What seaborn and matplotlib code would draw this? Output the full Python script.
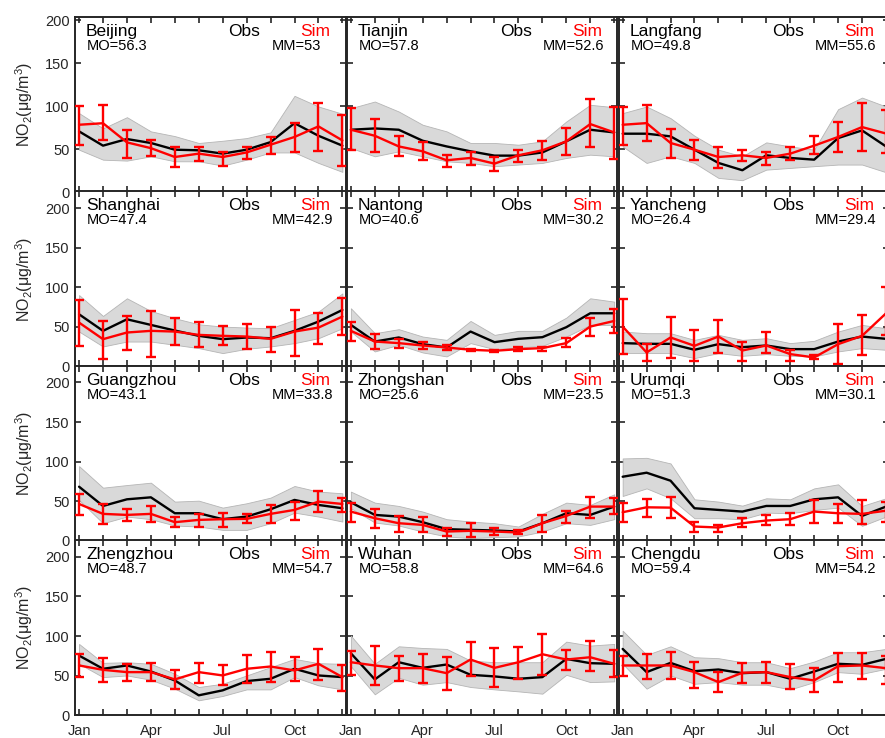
import matplotlib
matplotlib.use("Agg")
import matplotlib.pyplot as plt
import numpy as np
import pandas as pd
import seaborn as sns

# ---------------- data ----------------
months = list(range(1, 13))
month_tick_labels = ["Jan", "", "", "Apr", "", "", "Jul", "", "", "Oct", "", ""]
y_ticks = [0, 50, 100, 150, 200]

cities = ["Beijing", "Tianjin", "Langfang",
          "Shanghai", "Nantong", "Yancheng",
          "Guangzhou", "Zhongshan", "Urumqi",
          "Zhengzhou", "Wuhan", "Chengdu"]
mo_values = [56.3, 57.8, 49.8, 47.4, 40.6, 26.4, 43.1, 25.6, 51.3, 48.7, 58.8, 59.4]
mm_values = [53, 52.6, 55.6, 42.9, 30.2, 29.4, 33.8, 23.5, 30.1, 54.7, 64.6, 54.2]

obs_mean = {
    "Beijing":   [70.5, 53.9, 61.6, 57.0, 49.2, 48.5, 44.6, 49.2, 58.0, 80.0, 65.4, 53.9],
    "Tianjin":   [72.4, 73.9, 72.4, 59.6, 53.0, 47.3, 42.3, 42.3, 46.0, 58.9, 72.4, 69.3],
    "Langfang":  [67.8, 67.8, 64.7, 49.2, 33.8, 25.3, 42.7, 39.6, 37.6, 62.7, 71.6, 53.0],
    "Shanghai":  [65.8, 44.9, 59.5, 52.4, 45.3, 38.6, 34.4, 36.5, 35.6, 44.9, 56.6, 71.3],
    "Nantong":   [52.4, 31.4, 36.5, 28.1, 23.9, 44.0, 30.6, 34.8, 36.9, 49.5, 67.1, 67.1],
    "Yancheng":  [29.4, 28.5, 28.5, 21.0, 28.1, 24.3, 26.4, 21.8, 21.8, 31.4, 37.7, 34.8],
    "Guangzhou": [68.3, 44.0, 52.4, 54.9, 34.8, 34.8, 27.3, 30.6, 39.8, 51.6, 45.3, 41.1],
    "Zhongshan": [48.6, 32.7, 30.6, 23.5, 14.7, 13.8, 13.0, 11.7, 22.2, 34.8, 32.7, 43.2],
    "Urumqi":    [80.9, 86.0, 75.9, 41.1, 39.0, 36.9, 44.0, 44.0, 52.4, 54.9, 31.4, 43.2],
    "Zhengzhou": [75.3, 58.6, 62.8, 55.2, 43.9, 25.1, 31.4, 43.1, 46.0, 58.6, 50.2, 48.1],
    "Wuhan":     [78.2, 45.2, 66.9, 59.8, 64.0, 51.0, 49.0, 46.0, 48.1, 71.1, 65.7, 64.9],
    "Chengdu":   [83.7, 54.4, 66.1, 55.6, 57.7, 53.1, 54.4, 46.0, 55.2, 64.9, 63.6, 71.1],
}
obs_low = {
    "Beijing":   [49.2, 37.6, 36.5, 41.5, 35.7, 35.7, 30.7, 37.6, 46.0, 46.0, 33.8, 23.4],
    "Tianjin":   [51.2, 41.5, 47.3, 41.5, 35.7, 33.8, 30.0, 31.9, 33.8, 39.6, 43.4, 41.5],
    "Langfang":  [53.0, 33.8, 41.5, 33.8, 16.4, 13.7, 26.0, 28.0, 30.0, 31.9, 31.9, 23.0],
    "Shanghai":  [44.0, 25.2, 31.4, 31.4, 27.3, 23.1, 16.8, 22.2, 25.2, 29.4, 35.6, 48.2],
    "Nantong":   [44.0, 18.9, 27.3, 17.6, 12.6, 29.4, 21.8, 23.9, 26.0, 37.7, 52.4, 52.4],
    "Yancheng":  [16.8, 16.8, 16.8, 10.5, 16.8, 13.4, 15.5, 13.4, 12.6, 18.9, 23.1, 21.0],
    "Guangzhou": [51.6, 22.2, 30.6, 27.3, 19.3, 18.0, 13.8, 13.8, 22.2, 35.6, 30.6, 24.3],
    "Zhongshan": [41.1, 23.1, 19.3, 11.7, 5.5, 3.4, 4.6, 5.5, 11.7, 22.2, 20.1, 27.3],
    "Urumqi":    [56.6, 66.2, 53.7, 28.5, 28.5, 27.3, 35.6, 34.8, 39.0, 41.9, 18.9, 30.6],
    "Zhengzhou": [64.9, 48.1, 50.2, 44.8, 33.5, 18.8, 24.3, 32.6, 32.6, 48.1, 37.7, 32.6],
    "Wuhan":     [61.9, 26.4, 47.3, 38.5, 41.8, 35.6, 32.6, 30.1, 27.2, 51.0, 41.8, 42.7],
    "Chengdu":   [64.9, 33.5, 50.2, 39.7, 41.8, 38.5, 38.5, 32.6, 41.8, 54.4, 52.3, 58.6],
}
obs_high = {
    "Beijing":   [91.7, 74.0, 87.0, 70.5, 65.0, 57.0, 59.6, 62.7, 69.3, 111.8, 99.4, 91.0],
    "Tianjin":   [97.5, 105.2, 93.6, 78.2, 70.5, 57.0, 57.0, 55.0, 58.9, 82.0, 101.4, 98.6],
    "Langfang":  [91.7, 99.4, 85.9, 65.4, 49.2, 41.5, 57.7, 53.0, 49.2, 96.3, 109.8, 99.4],
    "Shanghai":  [90.1, 63.7, 86.0, 70.0, 60.8, 53.2, 50.3, 49.0, 48.2, 58.7, 69.2, 92.2],
    "Nantong":   [73.4, 41.9, 47.0, 37.7, 33.5, 57.4, 39.8, 44.9, 44.9, 61.6, 86.0, 81.8],
    "Yancheng":  [44.0, 41.9, 41.9, 33.5, 39.8, 33.5, 35.6, 29.4, 32.3, 44.0, 52.4, 48.2],
    "Guangzhou": [94.3, 67.1, 70.4, 73.4, 49.5, 50.7, 41.9, 47.4, 54.5, 69.2, 62.1, 60.0],
    "Zhongshan": [62.1, 48.2, 44.0, 36.9, 27.3, 24.3, 22.2, 18.0, 34.0, 48.2, 45.3, 58.7],
    "Urumqi":    [104.0, 104.8, 97.7, 52.4, 49.5, 44.4, 53.7, 52.4, 66.2, 71.3, 44.0, 53.7],
    "Zhengzhou": [90.0, 66.1, 66.9, 64.9, 52.3, 35.6, 39.7, 50.2, 60.7, 71.1, 65.7, 64.9],
    "Wuhan":     [100.4, 64.9, 87.0, 84.9, 83.7, 69.0, 66.9, 66.9, 66.9, 92.9, 87.9, 90.0],
    "Chengdu":   [106.7, 76.2, 87.0, 73.2, 72.0, 66.9, 66.9, 59.4, 67.8, 79.5, 79.5, 83.7],
}
sim_mean = {
    "Beijing":   [78.2, 80.0, 57.7, 51.0, 40.7, 44.6, 40.7, 46.0, 55.0, 64.0, 76.3, 60.0],
    "Tianjin":   [72.4, 65.4, 53.0, 47.3, 36.9, 39.6, 33.0, 42.7, 48.5, 58.9, 79.0, 69.3],
    "Langfang":  [78.2, 80.1, 57.0, 49.2, 40.7, 42.7, 39.6, 44.6, 53.9, 64.0, 75.5, 68.0],
    "Shanghai":  [55.3, 34.4, 42.8, 44.9, 44.0, 39.8, 38.6, 37.7, 34.8, 44.0, 49.0, 62.9],
    "Nantong":   [44.9, 31.4, 29.4, 26.4, 23.9, 21.0, 19.7, 21.8, 23.1, 29.4, 50.3, 57.4],
    "Yancheng":  [50.3, 17.6, 36.5, 26.0, 37.7, 20.1, 26.4, 15.5, 11.3, 28.1, 38.6, 67.0],
    "Guangzhou": [46.5, 34.0, 32.7, 34.0, 23.5, 26.4, 27.3, 27.7, 34.0, 39.0, 49.5, 46.5],
    "Zhongshan": [36.9, 28.5, 22.2, 20.1, 11.7, 12.6, 11.7, 10.5, 22.2, 31.4, 43.2, 43.2],
    "Urumqi":    [36.1, 42.3, 41.9, 18.0, 16.8, 22.2, 25.6, 27.3, 36.9, 34.8, 34.0, 38.0],
    "Zhengzhou": [62.8, 57.3, 54.4, 54.4, 45.2, 54.4, 50.2, 58.6, 61.5, 56.5, 64.9, 48.1],
    "Wuhan":     [66.9, 62.8, 59.4, 59.4, 53.1, 70.3, 59.8, 66.9, 77.0, 70.3, 73.2, 64.9],
    "Chengdu":   [62.8, 62.8, 62.8, 54.4, 41.8, 53.6, 54.4, 48.1, 43.9, 61.9, 62.8, 59.4],
}
sim_low = {
    "Beijing":   [55.0, 60.0, 39.6, 41.5, 28.8, 35.7, 30.0, 38.8, 44.6, 46.5, 48.0, 30.0],
    "Tianjin":   [48.5, 46.0, 41.5, 36.9, 28.8, 31.9, 24.9, 34.6, 37.6, 43.4, 52.3, 38.8],
    "Langfang":  [55.0, 59.6, 39.6, 37.6, 28.0, 35.7, 31.0, 37.6, 44.6, 46.0, 48.0, 45.0],
    "Shanghai":  [26.0, 9.2, 21.0, 11.3, 27.3, 23.9, 26.4, 21.8, 17.6, 13.4, 28.5, 39.8],
    "Nantong":   [32.7, 22.2, 23.1, 22.2, 20.1, 18.9, 18.0, 18.9, 19.7, 23.9, 39.0, 42.8],
    "Yancheng":  [15.5, 6.3, 10.5, 7.1, 16.8, 7.1, 16.8, 6.3, 9.2, 2.9, 14.7, 40.0],
    "Guangzhou": [32.7, 21.4, 25.2, 23.5, 16.8, 18.0, 17.2, 22.2, 23.1, 26.4, 36.9, 36.9],
    "Zhongshan": [24.3, 15.9, 11.7, 10.5, 6.3, 4.2, 7.5, 8.4, 10.9, 23.1, 28.5, 34.0],
    "Urumqi":    [24.3, 29.8, 28.5, 10.9, 11.7, 16.8, 20.1, 20.1, 22.2, 22.2, 21.0, 24.3],
    "Zhengzhou": [48.1, 41.8, 43.1, 43.1, 33.5, 40.6, 37.7, 40.6, 41.8, 42.7, 44.8, 30.5],
    "Wuhan":     [51.0, 37.7, 42.7, 40.6, 32.2, 49.4, 35.6, 46.0, 50.2, 57.7, 55.2, 48.1],
    "Chengdu":   [49.4, 45.2, 46.0, 34.7, 29.3, 41.0, 41.0, 33.5, 29.3, 41.8, 45.2, 39.7],
}
sim_high = {
    "Beijing":   [100.2, 101.4, 72.4, 60.8, 52.3, 52.3, 46.5, 52.3, 64.0, 80.0, 104.0, 89.8],
    "Tianjin":   [97.5, 84.7, 64.7, 57.7, 42.7, 46.0, 40.7, 49.2, 59.6, 74.3, 107.9, 99.4],
    "Langfang":  [99.4, 101.4, 73.2, 60.8, 51.9, 49.2, 46.0, 51.9, 64.7, 80.9, 104.0, 95.0],
    "Shanghai":  [83.9, 57.4, 64.2, 70.4, 61.6, 56.6, 51.2, 53.7, 50.3, 71.3, 67.9, 86.8],
    "Nantong":   [56.6, 40.7, 34.8, 30.6, 26.8, 22.2, 21.0, 24.3, 24.3, 35.6, 60.8, 72.1],
    "Yancheng":  [84.7, 28.1, 62.1, 46.1, 58.7, 31.4, 43.2, 20.1, 13.8, 53.7, 65.0, 100.0],
    "Guangzhou": [58.7, 46.1, 40.3, 44.4, 30.6, 34.0, 35.6, 33.5, 45.3, 49.5, 62.9, 54.5],
    "Zhongshan": [48.2, 39.8, 31.4, 29.8, 15.9, 22.2, 15.9, 13.8, 32.7, 37.7, 55.8, 53.7],
    "Urumqi":    [48.2, 52.8, 55.8, 23.5, 20.1, 28.5, 32.7, 34.8, 51.6, 46.1, 51.6, 49.5],
    "Zhengzhou": [77.4, 72.4, 64.9, 65.7, 56.5, 66.1, 62.8, 76.6, 79.5, 74.1, 83.7, 64.0],
    "Wuhan":     [81.6, 87.9, 75.3, 77.4, 73.2, 92.0, 84.9, 86.6, 102.5, 82.8, 93.3, 82.8],
    "Chengdu":   [75.3, 77.4, 79.5, 66.9, 54.4, 66.1, 67.8, 64.9, 59.4, 78.2, 78.2, 75.3],
}

# ---------------- style ----------------
sns.set_theme(style="ticks")
plt.rcParams["font.family"] = ["Liberation Sans", "DejaVu Sans"]
plt.rcParams["mathtext.fontset"] = "custom"
plt.rcParams["mathtext.rm"] = "Liberation Sans"
plt.rcParams["mathtext.it"] = "Liberation Sans:italic"
plt.rcParams["mathtext.default"] = "regular"

AX_COL = "#262626"
W, H = 885, 738
fig = plt.figure(figsize=(W / 100, H / 100), dpi=100)

for idx, city in enumerate(cities):
    r, c = divmod(idx, 3)
    left = 75 + c * 271.8
    top = 17 + r * 174.4
    w, h = 270.5, 175.0
    ax = fig.add_axes([left / W, 1 - (top + h) / H, w / W, h / H])
    ax.set_facecolor("white")

    df = pd.DataFrame({
        "month": months,
        "obs": obs_mean[city], "obs_lo": obs_low[city], "obs_hi": obs_high[city],
        "sim": sim_mean[city], "sim_lo": sim_low[city], "sim_hi": sim_high[city],
    })

    ax.fill_between(df["month"], df["obs_lo"], df["obs_hi"],
                    facecolor="#d9d9d9", edgecolor="#b5b5b5", lw=0.6, zorder=1)
    sns.lineplot(data=df, x="month", y="obs", color="black", lw=1.7, ax=ax, zorder=3)
    ax.errorbar(df["month"], df["sim"],
                yerr=[df["sim"] - df["sim_lo"], df["sim_hi"] - df["sim"]],
                fmt="none", ecolor="red", elinewidth=1.7, capsize=3.3, capthick=1.7,
                zorder=4)
    sns.lineplot(data=df, x="month", y="sim", color="red", lw=1.7, ax=ax, zorder=5)

    ax.set_xlim(0.83, 12.13)
    ax.set_ylim(0, 203.5 if r == 0 else 221)
    ax.set_xticks(months)
    ax.set_yticks(y_ticks)
    if r == 3:
        ax.set_xticklabels(month_tick_labels)
    else:
        ax.set_xticklabels([])
    if c == 0:
        ax.set_yticklabels([str(v) for v in y_ticks])
        ax.set_ylabel(r"NO$_2$($\mu$g/m$^3$)", fontsize=11.5, color=AX_COL)
        ax.yaxis.set_label_coords(-0.148, 0.5)
    else:
        ax.set_yticklabels([])
        ax.set_ylabel("")
    ax.set_xlabel("")

    ax.tick_params(axis="both", direction="in", length=4, width=1.2,
                   top=True, right=True, colors=AX_COL, labelsize=10.5)
    ax.tick_params(axis="x", pad=6)
    ax.tick_params(axis="y", pad=4)
    for sp in ax.spines.values():
        sp.set_visible(True)
        sp.set_color(AX_COL)
        sp.set_linewidth(1.4)

    ax.text(0.041, 0.891, city, transform=ax.transAxes, fontsize=12.5,
            color="black", va="baseline", ha="left", zorder=6)
    ax.text(0.044, 0.811, "MO={:g}".format(mo_values[idx]), transform=ax.transAxes,
            fontsize=10.5, color="black", va="baseline", ha="left", zorder=6)
    ax.text(0.567, 0.891, "Obs", transform=ax.transAxes, fontsize=12.5,
            color="black", va="baseline", ha="left", zorder=6)
    ax.text(0.833, 0.891, "Sim", transform=ax.transAxes, fontsize=12.5,
            color="red", va="baseline", ha="left", zorder=6)
    ax.text(0.726, 0.811, "MM={:g}".format(mm_values[idx]), transform=ax.transAxes,
            fontsize=10.5, color="black", va="baseline", ha="left", zorder=6)

fig.savefig("out.png", dpi=100)
